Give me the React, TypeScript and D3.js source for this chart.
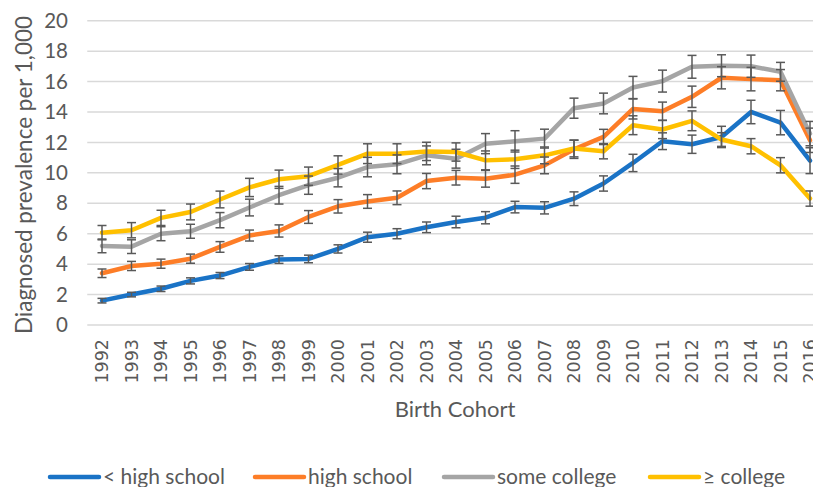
import * as d3 from "d3";

const YEARS = d3.range(1992, 2017).map(String);

const LESS_HS = [1.6, 2.0, 2.38, 2.9, 3.25, 3.82, 4.3, 4.34, 5.0, 5.77, 6.0, 6.42, 6.77, 7.05, 7.75, 7.7, 8.3, 9.3, 10.65, 12.08, 11.88, 12.36, 14.0, 13.3, 10.8];
const HS = [3.4, 3.88, 4.03, 4.36, 5.13, 5.88, 6.18, 7.1, 7.8, 8.12, 8.36, 9.46, 9.68, 9.61, 9.88, 10.49, 11.55, 12.36, 14.2, 14.05, 15.0, 16.25, 16.16, 16.09, 12.14];
const SOME_COL = [5.2, 5.15, 6.0, 6.16, 6.89, 7.72, 8.53, 9.19, 9.68, 10.38, 10.56, 11.15, 10.93, 11.92, 12.07, 12.25, 14.25, 14.56, 15.61, 16.03, 16.97, 17.04, 17.01, 16.64, 12.58];
const COLLEGE = [6.07, 6.23, 7.04, 7.43, 8.25, 9.04, 9.58, 9.78, 10.52, 11.26, 11.26, 11.41, 11.37, 10.82, 10.89, 11.15, 11.6, 11.42, 13.13, 12.85, 13.42, 12.19, 11.75, 10.5, 8.31];

// half-width of the error bars
const ERR_LESS_HS = [0.15, 0.15, 0.18, 0.2, 0.2, 0.22, 0.25, 0.25, 0.27, 0.33, 0.33, 0.35, 0.38, 0.4, 0.38, 0.4, 0.45, 0.5, 0.57, 0.55, 0.6, 0.7, 0.77, 0.8, 0.85];
const ERR_HS = [0.28, 0.3, 0.3, 0.3, 0.35, 0.36, 0.4, 0.42, 0.44, 0.45, 0.45, 0.5, 0.48, 0.55, 0.57, 0.55, 0.6, 0.5, 0.66, 0.6, 0.7, 0.73, 0.77, 0.7, 0.8];
const ERR_SOME_COL = [0.45, 0.45, 0.46, 0.46, 0.5, 0.55, 0.58, 0.6, 0.6, 0.64, 0.62, 0.62, 0.62, 0.66, 0.7, 0.62, 0.66, 0.68, 0.73, 0.72, 0.75, 0.72, 0.73, 0.62, 0.8];
const ERR_COLLEGE = [0.47, 0.5, 0.5, 0.52, 0.55, 0.6, 0.6, 0.6, 0.6, 0.65, 0.65, 0.6, 0.6, 0.62, 0.6, 0.55, 0.55, 0.5, 0.62, 0.6, 0.65, 0.45, 0.5, 0.5, 0.5];

const Y_TICKS = [0, 2, 4, 6, 8, 10, 12, 14, 16, 18, 20];

const SERIES = [
  { name: "< high school", values: LESS_HS, err: ERR_LESS_HS, color: "#1a73c6" },
  { name: "high school", values: HS, err: ERR_HS, color: "#fd7d27" },
  { name: "some college", values: SOME_COL, err: ERR_SOME_COL, color: "#a5a5a5" },
  { name: "\u2265 college", values: COLLEGE, err: ERR_COLLEGE, color: "#ffc000" },
];

const LEGEND_X = [48, 253, 442, 648];

const TEXT = "#595959";
const FONT = "Lato, 'Open Sans', sans-serif";

export default function App() {
  const W = 813;
  const H = 487;

  const x = d3.scaleBand<string>().domain(YEARS).range([87.25, 87.25 + 25 * 29.5]);
  const cx = (yr: string) => (x(yr) || 0) + x.bandwidth() / 2;
  const y = d3.scaleLinear().domain([0, 20]).range([325, 20.7]);

  const line = d3
    .line<number>()
    .x((_, i) => cx(YEARS[i]))
    .y((d) => y(d));

  return (
    <svg
      width={W}
      height={H}
      style={{ position: "absolute", left: 0, top: 0, background: "#fff" }}
      fontFamily={FONT}
    >
      {/* gridlines */}
      {Y_TICKS.map((t) => (
        <line key={t} x1={87.25} x2={W} y1={y(t)} y2={y(t)} stroke="#d9d9d9" strokeWidth={1.5} />
      ))}
      {/* y tick labels */}
      {Y_TICKS.map((t) => (
        <text key={t} x={68} y={y(t)} dy="0.35em" textAnchor="end" fontSize={20.5} fill={TEXT}>
          {t}
        </text>
      ))}
      {/* x tick labels */}
      {YEARS.map((yr) => (
        <text
          key={yr}
          transform={`translate(${cx(yr)},339) rotate(-90)`}
          textAnchor="end"
          dy="0.36em"
          fontSize={17.5}
          fontFamily="'DejaVu Sans', sans-serif"
          fill={TEXT}
        >
          {yr}
        </text>
      ))}
      {/* lines */}
      {SERIES.map((s) => (
        <path
          key={s.name}
          d={line(s.values) || ""}
          fill="none"
          stroke={s.color}
          strokeWidth={4.5}
          strokeLinejoin="round"
          strokeLinecap="round"
        />
      ))}
      {/* error bars */}
      {SERIES.map((s) =>
        s.values.map((v, i) => {
          const px = cx(YEARS[i]);
          const y1 = y(v + s.err[i]);
          const y2 = y(v - s.err[i]);
          return (
            <g key={s.name + i} stroke="#595959" strokeWidth={1.5}>
              <line x1={px} x2={px} y1={y1} y2={y2} />
              <line x1={px - 4.5} x2={px + 4.5} y1={y1} y2={y1} />
              <line x1={px - 4.5} x2={px + 4.5} y1={y2} y2={y2} />
            </g>
          );
        })
      )}
      {/* axis titles */}
      <text
        transform="translate(24,175) rotate(-90)"
        textAnchor="middle"
        dy="0.35em"
        fontSize={22.5}
        fill={TEXT}
      >
        Diagnosed prevalence per 1,000
      </text>
      <text x={455} y={417} textAnchor="middle" fontSize={22} fill={TEXT}>
        Birth Cohort
      </text>
      {/* legend */}
      {SERIES.map((s, i) => (
        <g key={s.name} transform={`translate(${LEGEND_X[i]},477)`}>
          <line x1={2} x2={51} y1={0} y2={0} stroke={s.color} strokeWidth={4.5} strokeLinecap="round" />
          <text x={55} dy="0.35em" fontSize={21} fill={TEXT}>
            {s.name}
          </text>
        </g>
      ))}
    </svg>
  );
}
